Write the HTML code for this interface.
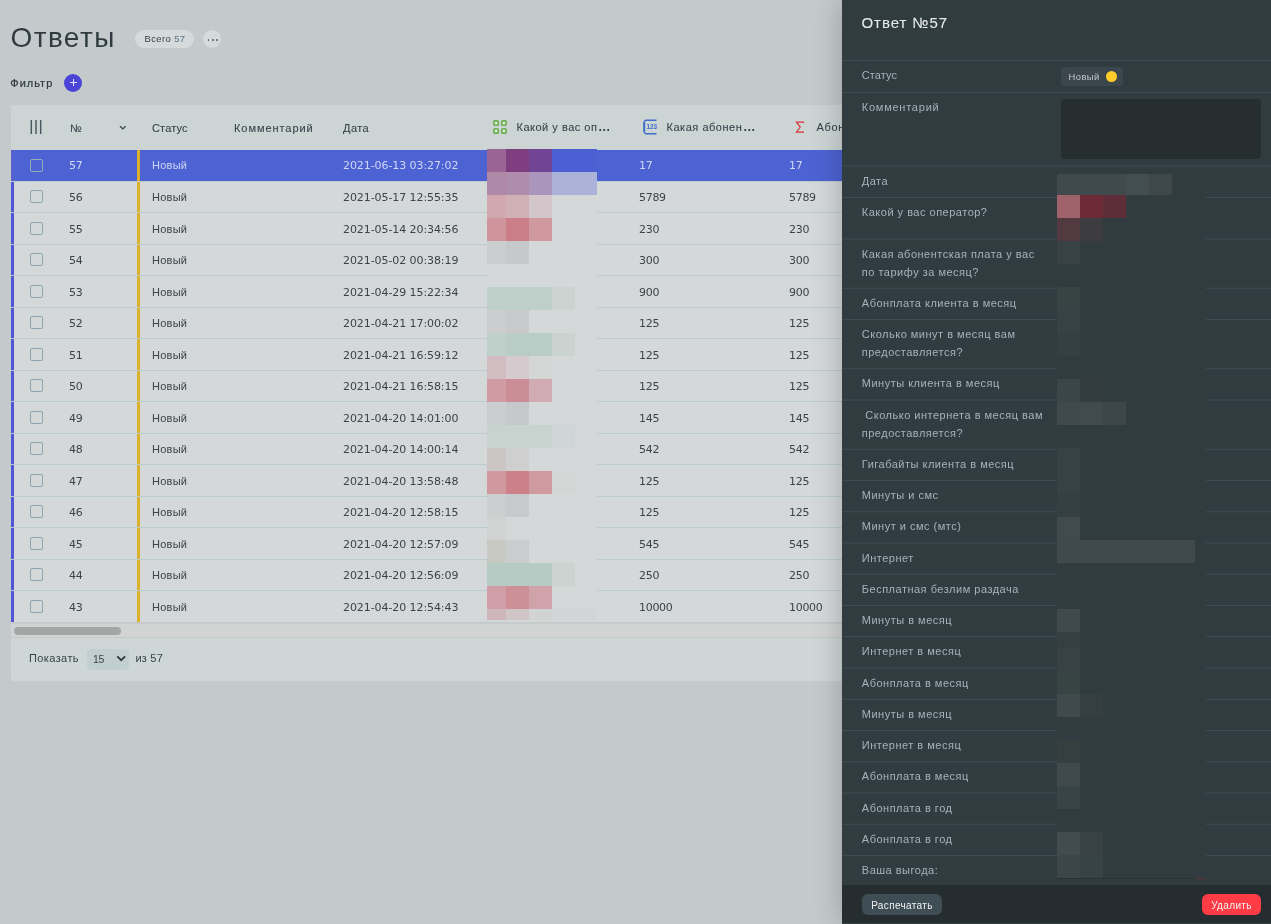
<!DOCTYPE html>
<html lang="ru">
<head>
<meta charset="utf-8">
<title>Ответы</title>
<style>
*{box-sizing:border-box}
html,body{margin:0;padding:0}
body{width:1271px;height:924px;overflow:hidden;position:relative;background:#c4c9cc;
 font-family:"Liberation Sans",sans-serif;font-size:11px;color:#36434a}
.abs{position:absolute}
.m{font-family:"Liberation Sans",sans-serif;letter-spacing:.44px;white-space:nowrap}
.d{font-family:"DejaVu Sans","Liberation Sans",sans-serif;white-space:nowrap;letter-spacing:-.08px}
h1.m{position:absolute;left:10.5px;top:19.5px;margin:0;font-size:28px;line-height:36px;font-weight:400;letter-spacing:1.4px;color:#2f3b40;white-space:nowrap}
.badge{left:135px;top:30px;width:59px;height:18px;border-radius:9px;background:#d5dadb;font-size:9.4px;line-height:18.6px;text-align:center;color:#36434a;letter-spacing:.42px;padding-left:1px}
.badge b{font-weight:400;color:#5b7480}
.more{left:203px;top:30px;width:18px;height:18px;border-radius:9px;background:#d5dadb}
.more i{position:absolute;top:9px;width:1.7px;height:1.7px;border-radius:1px;background:#4f5d63}
.filter{left:10.3px;top:73.5px;line-height:18px;font-size:11px;color:#2f3b40;font-weight:400;letter-spacing:1px;-webkit-text-stroke:.22px #2f3b40}
.plus{left:64px;top:74px;width:18px;height:18px;border-radius:9px;background:#4a45d6}
.plus:before,.plus:after{content:"";position:absolute;background:#e4e4fb;left:5.5px;top:8.4px;width:7px;height:1px}
.plus:after{left:8.6px;top:5.4px;width:1px;height:7px}
.table{left:11px;top:105px;width:900px;height:576px;background:#ced6d6;border-radius:2px 0 0 3px;overflow:hidden}
.thead{left:0;top:0;width:900px;height:45px;background:#cdd5d4}
.th b{font-size:12.5px;letter-spacing:0;-webkit-text-stroke:0;margin-left:.6px}
.th{top:14px;line-height:18px;font-size:11px;font-weight:400;color:#36434a;-webkit-text-stroke:.09px #36434a}
.row{left:0;width:900px;height:32px;background:#d4d8d9;border-bottom:1px solid #bccbcd}
.row.sel{background:#4d63d3;color:#e3e7f6}
.row:before{content:"";position:absolute;left:0;top:0;bottom:0;width:3px;background:#5056d6}
.row.sel:before{background:#5a5fd0}
.row:after{content:"";position:absolute;left:126px;top:0;bottom:0;width:3px;background:#dbb12c}
.row span{position:absolute;top:0;line-height:31px;font-size:11px;color:#3a4549}
.row.sel span{color:#d0d6f3}
.cb{position:absolute;left:19px;top:9px;width:13px;height:13px;border:1px solid #8aa7b0;border-radius:2px}
.row.sel .cb{border-color:#94aeb8}
.sbar{left:0;top:517px;width:900px;height:15.5px;background:#d2d4d3;border-top:1px solid #c0c9cb;box-shadow:inset 0 1px 0 #c9cbca,inset 0 -1px 0 #c8cac9}
.sbar i{position:absolute;left:3px;top:4px;width:107px;height:8px;border-radius:4px;background:#a2a6a7}
.tfoot{left:0;top:532.5px;width:900px;height:43.5px;background:#ced6d6}
.sel15{left:76px;top:11px;width:42px;height:21px;border-radius:4px;background:#c1cfd1}
.panel{left:842px;top:0;width:429px;height:924px;background:#313c41;box-shadow:0 0 28px rgba(0,0,0,.23)}
.panel h2{position:absolute;left:19.5px;top:13px;margin:0;font-size:15px;line-height:20px;font-weight:400;color:#e6eaeb;letter-spacing:.95px;white-space:nowrap;-webkit-text-stroke:.1px #e6eaeb}
.sep{position:absolute;left:0;width:429px;height:1px;background:#3f4c52}
.lab{position:absolute;left:19.8px;font-size:11px;line-height:18px;color:#a3b4b9;letter-spacing:.5px}
.status{left:219px;top:67px;width:62px;height:19px;border-radius:4px;background:#3b474d}
.status span{position:absolute;left:7.6px;top:0;line-height:20px;font-size:9.4px;color:#c3c9cb;letter-spacing:.4px}
.status i{position:absolute;left:45px;top:4px;width:11px;height:11px;border-radius:6px;background:#ffcc2a}
.ta{left:219px;top:99px;width:200px;height:60px;border-radius:3px;background:#262e30}
.pfoot{left:0;top:885px;width:429px;height:39px;background:#262d30;border-bottom:1px solid #374042}
.btn{top:9px;height:21px;border-radius:6px;font-size:10px;line-height:23px;text-align:center;color:#eef1f1;letter-spacing:.36px;padding-left:0}
.mz i{position:absolute}
</style>
</head>
<body>
<h1 class="m">Ответы</h1>
<div class="abs badge m">Всего <b>57</b></div>
<div class="abs more"><i style="left:4.7px"></i><i style="left:8.9px"></i><i style="left:13.1px"></i></div>
<div class="abs filter m">Фильтр</div>
<div class="abs plus"></div>
<div class="abs table">
<div class="abs thead">
<svg class="abs" style="left:19px;top:14px" width="12" height="16" viewBox="0 0 12 16"><path d="M1.3 1v14M6 1v14M10.7 1v14" stroke="#4a5a61" stroke-width="1.5" fill="none"/></svg>
<div class="abs th m" style="left:59px;letter-spacing:1px">№</div>
<svg class="abs" style="left:107.5px;top:20.3px" width="8" height="6" viewBox="0 0 8 6"><path d="M1 1.2l2.8 2.7 2.8-2.7" stroke="#3b484e" stroke-width="1.4" fill="none"/></svg>
<div class="abs th m" style="left:141px;letter-spacing:.14px">Статус</div>
<div class="abs th m" style="left:223px;letter-spacing:.94px">Комментарий</div>
<div class="abs th m" style="left:332px">Дата</div>
<svg class="abs" style="left:482px;top:15px" width="14" height="14" viewBox="0 0 14 14"><g fill="#dbe7dc" stroke="#6cae53" stroke-width="1.7"><rect x=".85" y=".85" width="4.4" height="4.4" rx="1"/><rect x="8.75" y=".85" width="4.4" height="4.4" rx="1"/><rect x=".85" y="8.75" width="4.4" height="4.4" rx="1"/><rect x="8.75" y="8.75" width="4.4" height="4.4" rx="1"/></g></svg>
<div class="abs th m" style="left:505.5px;top:13px;letter-spacing:.51px">Какой у вас оп<b>…</b></div>
<svg class="abs" style="left:632px;top:14px" width="15" height="16" viewBox="0 0 15 16"><path d="M13.5 1.2H3.4a2.1 2.1 0 0 0-2.1 2.1v9.4a2.1 2.1 0 0 0 2.1 2.1h10.1" fill="none" stroke="#3f6fca" stroke-width="1.5"/><path d="M1.2 3.5v9" stroke="#3f6fca" stroke-width="1.9" fill="none"/><text x="3.4" y="10.2" font-family="Liberation Sans,sans-serif" font-size="6.4" font-weight="700" fill="#3f6fca">123</text></svg>
<div class="abs th m" style="left:655.5px;top:13px;letter-spacing:.53px">Какая абонен<b>…</b></div>
<svg class="abs" style="left:783.6px;top:15.6px" width="9.9" height="12.2" viewBox="0 0 11 13" preserveAspectRatio="none"><path d="M9.6 2.2V1.2H1.6l4.2 5.3-4.2 5.3h8.1v-1" fill="none" stroke="#d8343c" stroke-width="1.3"/></svg>
<div class="abs th m" style="left:805.5px;top:13px;letter-spacing:.7px">Абонплата<b>…</b></div>
</div>
<div class="abs row sel" style="top:45px;height:32px"><div class="cb" style="top:9px"></div><span class="d" style="left:58px;top:0px;letter-spacing:-.3px">57</span><span class="m" style="left:141px;top:0px;letter-spacing:.25px">Новый</span><span class="d" style="left:332px;top:0px">2021-06-13 03:27:02</span><span class="d" style="left:628px;top:0px;letter-spacing:-.3px">17</span><span class="d" style="left:778px;top:0px;letter-spacing:-.3px">17</span></div>
<div class="abs row" style="top:77px;height:31px"><div class="cb" style="top:8px"></div><span class="d" style="left:58px;top:0px;letter-spacing:-.3px">56</span><span class="m" style="left:141px;top:0px;letter-spacing:.25px">Новый</span><span class="d" style="left:332px;top:0px">2021-05-17 12:55:35</span><span class="d" style="left:628px;top:0px;letter-spacing:-.3px">5789</span><span class="d" style="left:778px;top:0px;letter-spacing:-.3px">5789</span></div>
<div class="abs row" style="top:108px;height:32px"><div class="cb" style="top:9px"></div><span class="d" style="left:58px;top:1px;letter-spacing:-.3px">55</span><span class="m" style="left:141px;top:1px;letter-spacing:.25px">Новый</span><span class="d" style="left:332px;top:1px">2021-05-14 20:34:56</span><span class="d" style="left:628px;top:1px;letter-spacing:-.3px">230</span><span class="d" style="left:778px;top:1px;letter-spacing:-.3px">230</span></div>
<div class="abs row" style="top:140px;height:31px"><div class="cb" style="top:8px"></div><span class="d" style="left:58px;top:0px;letter-spacing:-.3px">54</span><span class="m" style="left:141px;top:0px;letter-spacing:.25px">Новый</span><span class="d" style="left:332px;top:0px">2021-05-02 00:38:19</span><span class="d" style="left:628px;top:0px;letter-spacing:-.3px">300</span><span class="d" style="left:778px;top:0px;letter-spacing:-.3px">300</span></div>
<div class="abs row" style="top:171px;height:32px"><div class="cb" style="top:9px"></div><span class="d" style="left:58px;top:1px;letter-spacing:-.3px">53</span><span class="m" style="left:141px;top:1px;letter-spacing:.25px">Новый</span><span class="d" style="left:332px;top:1px">2021-04-29 15:22:34</span><span class="d" style="left:628px;top:1px;letter-spacing:-.3px">900</span><span class="d" style="left:778px;top:1px;letter-spacing:-.3px">900</span></div>
<div class="abs row" style="top:203px;height:31px"><div class="cb" style="top:8px"></div><span class="d" style="left:58px;top:0px;letter-spacing:-.3px">52</span><span class="m" style="left:141px;top:0px;letter-spacing:.25px">Новый</span><span class="d" style="left:332px;top:0px">2021-04-21 17:00:02</span><span class="d" style="left:628px;top:0px;letter-spacing:-.3px">125</span><span class="d" style="left:778px;top:0px;letter-spacing:-.3px">125</span></div>
<div class="abs row" style="top:234px;height:32px"><div class="cb" style="top:9px"></div><span class="d" style="left:58px;top:1px;letter-spacing:-.3px">51</span><span class="m" style="left:141px;top:1px;letter-spacing:.25px">Новый</span><span class="d" style="left:332px;top:1px">2021-04-21 16:59:12</span><span class="d" style="left:628px;top:1px;letter-spacing:-.3px">125</span><span class="d" style="left:778px;top:1px;letter-spacing:-.3px">125</span></div>
<div class="abs row" style="top:266px;height:31px"><div class="cb" style="top:8px"></div><span class="d" style="left:58px;top:0px;letter-spacing:-.3px">50</span><span class="m" style="left:141px;top:0px;letter-spacing:.25px">Новый</span><span class="d" style="left:332px;top:0px">2021-04-21 16:58:15</span><span class="d" style="left:628px;top:0px;letter-spacing:-.3px">125</span><span class="d" style="left:778px;top:0px;letter-spacing:-.3px">125</span></div>
<div class="abs row" style="top:297px;height:32px"><div class="cb" style="top:9px"></div><span class="d" style="left:58px;top:1px;letter-spacing:-.3px">49</span><span class="m" style="left:141px;top:1px;letter-spacing:.25px">Новый</span><span class="d" style="left:332px;top:1px">2021-04-20 14:01:00</span><span class="d" style="left:628px;top:1px;letter-spacing:-.3px">145</span><span class="d" style="left:778px;top:1px;letter-spacing:-.3px">145</span></div>
<div class="abs row" style="top:329px;height:31px"><div class="cb" style="top:8px"></div><span class="d" style="left:58px;top:0px;letter-spacing:-.3px">48</span><span class="m" style="left:141px;top:0px;letter-spacing:.25px">Новый</span><span class="d" style="left:332px;top:0px">2021-04-20 14:00:14</span><span class="d" style="left:628px;top:0px;letter-spacing:-.3px">542</span><span class="d" style="left:778px;top:0px;letter-spacing:-.3px">542</span></div>
<div class="abs row" style="top:360px;height:32px"><div class="cb" style="top:9px"></div><span class="d" style="left:58px;top:1px;letter-spacing:-.3px">47</span><span class="m" style="left:141px;top:1px;letter-spacing:.25px">Новый</span><span class="d" style="left:332px;top:1px">2021-04-20 13:58:48</span><span class="d" style="left:628px;top:1px;letter-spacing:-.3px">125</span><span class="d" style="left:778px;top:1px;letter-spacing:-.3px">125</span></div>
<div class="abs row" style="top:392px;height:31px"><div class="cb" style="top:8px"></div><span class="d" style="left:58px;top:0px;letter-spacing:-.3px">46</span><span class="m" style="left:141px;top:0px;letter-spacing:.25px">Новый</span><span class="d" style="left:332px;top:0px">2021-04-20 12:58:15</span><span class="d" style="left:628px;top:0px;letter-spacing:-.3px">125</span><span class="d" style="left:778px;top:0px;letter-spacing:-.3px">125</span></div>
<div class="abs row" style="top:423px;height:32px"><div class="cb" style="top:9px"></div><span class="d" style="left:58px;top:1px;letter-spacing:-.3px">45</span><span class="m" style="left:141px;top:1px;letter-spacing:.25px">Новый</span><span class="d" style="left:332px;top:1px">2021-04-20 12:57:09</span><span class="d" style="left:628px;top:1px;letter-spacing:-.3px">545</span><span class="d" style="left:778px;top:1px;letter-spacing:-.3px">545</span></div>
<div class="abs row" style="top:455px;height:31px"><div class="cb" style="top:8px"></div><span class="d" style="left:58px;top:0px;letter-spacing:-.3px">44</span><span class="m" style="left:141px;top:0px;letter-spacing:.25px">Новый</span><span class="d" style="left:332px;top:0px">2021-04-20 12:56:09</span><span class="d" style="left:628px;top:0px;letter-spacing:-.3px">250</span><span class="d" style="left:778px;top:0px;letter-spacing:-.3px">250</span></div>
<div class="abs row" style="top:486px;height:32px"><div class="cb" style="top:9px"></div><span class="d" style="left:58px;top:1px;letter-spacing:-.3px">43</span><span class="m" style="left:141px;top:1px;letter-spacing:.25px">Новый</span><span class="d" style="left:332px;top:1px">2021-04-20 12:54:43</span><span class="d" style="left:628px;top:1px;letter-spacing:-.3px">10000</span><span class="d" style="left:778px;top:1px;letter-spacing:-.3px">10000</span></div>
<div class="abs mz" style="left:476px;top:44px;width:110px;height:471px;background:#d4d8d9"><i style="left:0px;top:0px;width:19px;height:23px;background:#9a6494"></i><i style="left:19px;top:0px;width:23px;height:23px;background:#7e3e80"></i><i style="left:42px;top:0px;width:23px;height:23px;background:#724496"></i><i style="left:65px;top:0px;width:23px;height:23px;background:#4c60d3"></i><i style="left:88px;top:0px;width:22px;height:23px;background:#4c60d3"></i><i style="left:0px;top:23px;width:19px;height:23px;background:#b088a8"></i><i style="left:19px;top:23px;width:23px;height:23px;background:#ad8cae"></i><i style="left:42px;top:23px;width:23px;height:23px;background:#aa96bc"></i><i style="left:65px;top:23px;width:23px;height:23px;background:#abb4d8"></i><i style="left:88px;top:23px;width:22px;height:23px;background:#abb4d8"></i><i style="left:0px;top:46px;width:19px;height:23px;background:#d0a8ae"></i><i style="left:19px;top:46px;width:23px;height:23px;background:#d0b0b4"></i><i style="left:42px;top:46px;width:23px;height:23px;background:#d2c6ca"></i><i style="left:0px;top:69px;width:19px;height:23px;background:#d0959c"></i><i style="left:19px;top:69px;width:23px;height:23px;background:#cc7e88"></i><i style="left:42px;top:69px;width:23px;height:23px;background:#d0989f"></i><i style="left:0px;top:92px;width:19px;height:23px;background:#cbcecf"></i><i style="left:19px;top:92px;width:23px;height:23px;background:#c6c9ca"></i><i style="left:0px;top:138px;width:19px;height:23px;background:#bfcfca"></i><i style="left:19px;top:138px;width:23px;height:23px;background:#bfcfca"></i><i style="left:42px;top:138px;width:23px;height:23px;background:#bfcfca"></i><i style="left:65px;top:138px;width:23px;height:23px;background:#ccd4d1"></i><i style="left:0px;top:161px;width:19px;height:23px;background:#cbcdce"></i><i style="left:19px;top:161px;width:23px;height:23px;background:#c7c9ca"></i><i style="left:0px;top:184px;width:19px;height:23px;background:#bfd0ca"></i><i style="left:19px;top:184px;width:23px;height:23px;background:#b9cdc6"></i><i style="left:42px;top:184px;width:23px;height:23px;background:#b9cdc6"></i><i style="left:65px;top:184px;width:23px;height:23px;background:#cbd3d0"></i><i style="left:0px;top:207px;width:19px;height:23px;background:#d1bdc1"></i><i style="left:19px;top:207px;width:23px;height:23px;background:#d5cacd"></i><i style="left:42px;top:207px;width:23px;height:23px;background:#d4d6d6"></i><i style="left:0px;top:230px;width:19px;height:23px;background:#d09ba3"></i><i style="left:19px;top:230px;width:23px;height:23px;background:#cb8e96"></i><i style="left:42px;top:230px;width:23px;height:23px;background:#d0abb3"></i><i style="left:0px;top:253px;width:19px;height:23px;background:#cbced0"></i><i style="left:19px;top:253px;width:23px;height:23px;background:#c6c9cb"></i><i style="left:0px;top:276px;width:19px;height:23px;background:#c8d2cf"></i><i style="left:19px;top:276px;width:23px;height:23px;background:#c8d2cf"></i><i style="left:42px;top:276px;width:23px;height:23px;background:#c8d2cf"></i><i style="left:65px;top:276px;width:23px;height:23px;background:#d0d6d6"></i><i style="left:0px;top:299px;width:19px;height:23px;background:#cbc5c6"></i><i style="left:19px;top:299px;width:23px;height:23px;background:#d0cfcf"></i><i style="left:0px;top:322px;width:19px;height:23px;background:#d0989f"></i><i style="left:19px;top:322px;width:23px;height:23px;background:#cb808a"></i><i style="left:42px;top:322px;width:23px;height:23px;background:#d09aa1"></i><i style="left:65px;top:322px;width:23px;height:23px;background:#d4d6d6"></i><i style="left:0px;top:345px;width:19px;height:23px;background:#cbcfd0"></i><i style="left:19px;top:345px;width:23px;height:23px;background:#c6cacb"></i><i style="left:0px;top:368px;width:19px;height:23px;background:#d1d3d2"></i><i style="left:0px;top:391px;width:19px;height:23px;background:#c9c9c3"></i><i style="left:19px;top:391px;width:23px;height:23px;background:#c9cdce"></i><i style="left:0px;top:414px;width:19px;height:23px;background:#b7cbc5"></i><i style="left:19px;top:414px;width:23px;height:23px;background:#b7cbc5"></i><i style="left:42px;top:414px;width:23px;height:23px;background:#b7cbc5"></i><i style="left:65px;top:414px;width:23px;height:23px;background:#cbd4d1"></i><i style="left:0px;top:437px;width:19px;height:23px;background:#d09ea6"></i><i style="left:19px;top:437px;width:23px;height:23px;background:#cc9096"></i><i style="left:42px;top:437px;width:23px;height:23px;background:#d0a2aa"></i><i style="left:0px;top:460px;width:19px;height:11px;background:#cdb7bb"></i><i style="left:19px;top:460px;width:23px;height:11px;background:#d1c6c7"></i><i style="left:42px;top:460px;width:23px;height:11px;background:#d2d4d4"></i><i style="left:65px;top:460px;width:23px;height:11px;background:#d1d5d6"></i><i style="left:88px;top:460px;width:22px;height:11px;background:#d1d5d6"></i></div>
<div class="abs sbar"><i></i></div>
<div class="abs tfoot"><div class="abs m" style="left:18px;top:11.5px;line-height:18px;font-size:11px;letter-spacing:.4px">Показать</div><div class="abs sel15"><span class="abs m" style="left:6px;top:1.5px;line-height:18px;font-size:10.5px;letter-spacing:-.4px">15</span><svg class="abs" style="left:28.6px;top:6.8px" width="11" height="8" viewBox="0 0 11 8"><path d="M1.3 1.3l3.9 3.9 3.9-3.9" stroke="#2f3b40" stroke-width="1.9" fill="none"/></svg></div><div class="abs m" style="left:124.5px;top:11.5px;line-height:18px;font-size:11px;letter-spacing:.2px">из 57</div></div>
</div>
<div class="abs panel">
<h2 class="m">Ответ №57</h2>
<svg class="abs" style="left:0;top:0" width="429" height="885" viewBox="0 0 429 885"><rect x="0" y="60" width="429" height="1" fill="#3f4c52"/><rect x="0" y="92" width="429" height="1" fill="#3f4c52"/><rect x="0" y="165.5" width="429" height="1" fill="#3f4c52"/><rect x="0" y="197" width="429" height="1" fill="#3f4c52"/><rect x="0" y="238.5" width="429" height="1" fill="#3f4c52"/><rect x="0" y="287.75" width="429" height="1" fill="#3f4c52"/><rect x="0" y="319" width="429" height="1" fill="#3f4c52"/><rect x="0" y="368.25" width="429" height="1" fill="#3f4c52"/><rect x="0" y="399.5" width="429" height="1" fill="#3f4c52"/><rect x="0" y="448.75" width="429" height="1" fill="#3f4c52"/><rect x="0" y="480" width="429" height="1" fill="#3f4c52"/><rect x="0" y="511.25" width="429" height="1" fill="#3f4c52"/><rect x="0" y="542.5" width="429" height="1" fill="#3f4c52"/><rect x="0" y="573.75" width="429" height="1" fill="#3f4c52"/><rect x="0" y="605" width="429" height="1" fill="#3f4c52"/><rect x="0" y="636.25" width="429" height="1" fill="#3f4c52"/><rect x="0" y="667.5" width="429" height="1" fill="#3f4c52"/><rect x="0" y="698.75" width="429" height="1" fill="#3f4c52"/><rect x="0" y="730" width="429" height="1" fill="#3f4c52"/><rect x="0" y="761.25" width="429" height="1" fill="#3f4c52"/><rect x="0" y="792.5" width="429" height="1" fill="#3f4c52"/><rect x="0" y="823.75" width="429" height="1" fill="#3f4c52"/><rect x="0" y="855" width="429" height="1" fill="#3f4c52"/></svg>
<div class="lab m" style="top:66px;letter-spacing:0.1px">Статус</div>
<div class="lab m" style="top:98px;letter-spacing:0.76px">Комментарий</div>
<div class="lab m" style="top:172px">Дата</div>
<div class="lab m" style="top:203px">Какой у вас оператор?</div>
<div class="lab m" style="top:245px">Какая абонентская плата у вас<br>по тарифу за месяц?</div>
<div class="lab m" style="top:294px">Абонплата клиента в месяц</div>
<div class="lab m" style="top:325px">Сколько минут в месяц вам<br>предоставляется?</div>
<div class="lab m" style="top:374px">Минуты клиента в месяц</div>
<div class="lab m" style="top:406px">&nbsp;Сколько интернета в месяц вам<br>предоставляется?</div>
<div class="lab m" style="top:455px">Гигабайты клиента в месяц</div>
<div class="lab m" style="top:486px">Минуты и смс</div>
<div class="lab m" style="top:517px">Минут и смс (мтс)</div>
<div class="lab m" style="top:549px">Интернет</div>
<div class="lab m" style="top:580px">Бесплатная безлим раздача</div>
<div class="lab m" style="top:611px">Минуты в месяц</div>
<div class="lab m" style="top:642px">Интернет в месяц</div>
<div class="lab m" style="top:674px">Абонплата в месяц</div>
<div class="lab m" style="top:705px">Минуты в месяц</div>
<div class="lab m" style="top:736px">Интернет в месяц</div>
<div class="lab m" style="top:767px">Абонплата в месяц</div>
<div class="lab m" style="top:799px">Абонплата в год</div>
<div class="lab m" style="top:830px">Абонплата в год</div>
<div class="lab m" style="top:861px">Ваша выгода:</div>
<div class="abs status"><span class="m">Новый</span><i></i></div>
<div class="abs ta"></div>
<div class="abs mz" style="left:215px;top:174px;width:149px;height:705px;background:#313c41"><i style="left:0px;top:0px;width:23px;height:21px;background:#404a4c"></i><i style="left:23px;top:0px;width:23px;height:21px;background:#404a4c"></i><i style="left:46px;top:0px;width:23px;height:21px;background:#404a4c"></i><i style="left:69px;top:0px;width:23px;height:21px;background:#434e50"></i><i style="left:92px;top:0px;width:23px;height:21px;background:#3e484a"></i><i style="left:0px;top:21px;width:23px;height:23px;background:#a0626a"></i><i style="left:23px;top:21px;width:23px;height:23px;background:#6b2a35"></i><i style="left:46px;top:21px;width:23px;height:23px;background:#5e2e38"></i><i style="left:0px;top:44px;width:23px;height:23px;background:#523a40"></i><i style="left:23px;top:44px;width:23px;height:23px;background:#3d3c40"></i><i style="left:0px;top:67px;width:23px;height:23px;background:#384244"></i><i style="left:0px;top:113px;width:23px;height:23px;background:#384344"></i><i style="left:0px;top:136px;width:23px;height:23px;background:#374246"></i><i style="left:0px;top:159px;width:23px;height:23px;background:#354044"></i><i style="left:0px;top:205px;width:23px;height:23px;background:#3b464b"></i><i style="left:23px;top:205px;width:23px;height:23px;background:#333d41"></i><i style="left:0px;top:228px;width:23px;height:23px;background:#404a4c"></i><i style="left:23px;top:228px;width:23px;height:23px;background:#414b4d"></i><i style="left:46px;top:228px;width:23px;height:23px;background:#3d4749"></i><i style="left:0px;top:274px;width:23px;height:23px;background:#374244"></i><i style="left:0px;top:297px;width:23px;height:23px;background:#374246"></i><i style="left:0px;top:320px;width:23px;height:23px;background:#354044"></i><i style="left:0px;top:343px;width:23px;height:23px;background:#414b4d"></i><i style="left:0px;top:366px;width:23px;height:23px;background:#404a4c"></i><i style="left:23px;top:366px;width:23px;height:23px;background:#404a4c"></i><i style="left:46px;top:366px;width:23px;height:23px;background:#404a4c"></i><i style="left:69px;top:366px;width:23px;height:23px;background:#404a4c"></i><i style="left:92px;top:366px;width:23px;height:23px;background:#404a4c"></i><i style="left:115px;top:366px;width:23px;height:23px;background:#404a4c"></i><i style="left:0px;top:435px;width:23px;height:23px;background:#404a4c"></i><i style="left:0px;top:458px;width:23px;height:16px;background:#343e43"></i><i style="left:0px;top:474px;width:23px;height:23px;background:#384246"></i><i style="left:0px;top:497px;width:23px;height:23px;background:#384344"></i><i style="left:0px;top:520px;width:23px;height:23px;background:#404a4c"></i><i style="left:23px;top:520px;width:23px;height:23px;background:#353f43"></i><i style="left:0px;top:566px;width:23px;height:23px;background:#363f40"></i><i style="left:0px;top:589px;width:23px;height:23px;background:#404a4c"></i><i style="left:0px;top:612px;width:23px;height:23px;background:#394448"></i><i style="left:0px;top:658px;width:23px;height:23px;background:#424c4e"></i><i style="left:23px;top:658px;width:23px;height:23px;background:#384246"></i><i style="left:0px;top:681px;width:23px;height:23px;background:#3c4648"></i><i style="left:23px;top:681px;width:23px;height:23px;background:#384348"></i><i style="left:0;top:704px;width:138px;height:1px;background:#2a3235"></i><i style="left:138px;top:704px;width:11px;height:1px;background:#5e3539"></i></div>
<div class="abs pfoot"><div class="abs btn m" style="left:20px;width:80px;background:#3f4e55">Распечатать</div><div class="abs btn m" style="left:360px;width:59px;background:#ff3b45">Удалить</div></div>
</div>
</body>
</html>
